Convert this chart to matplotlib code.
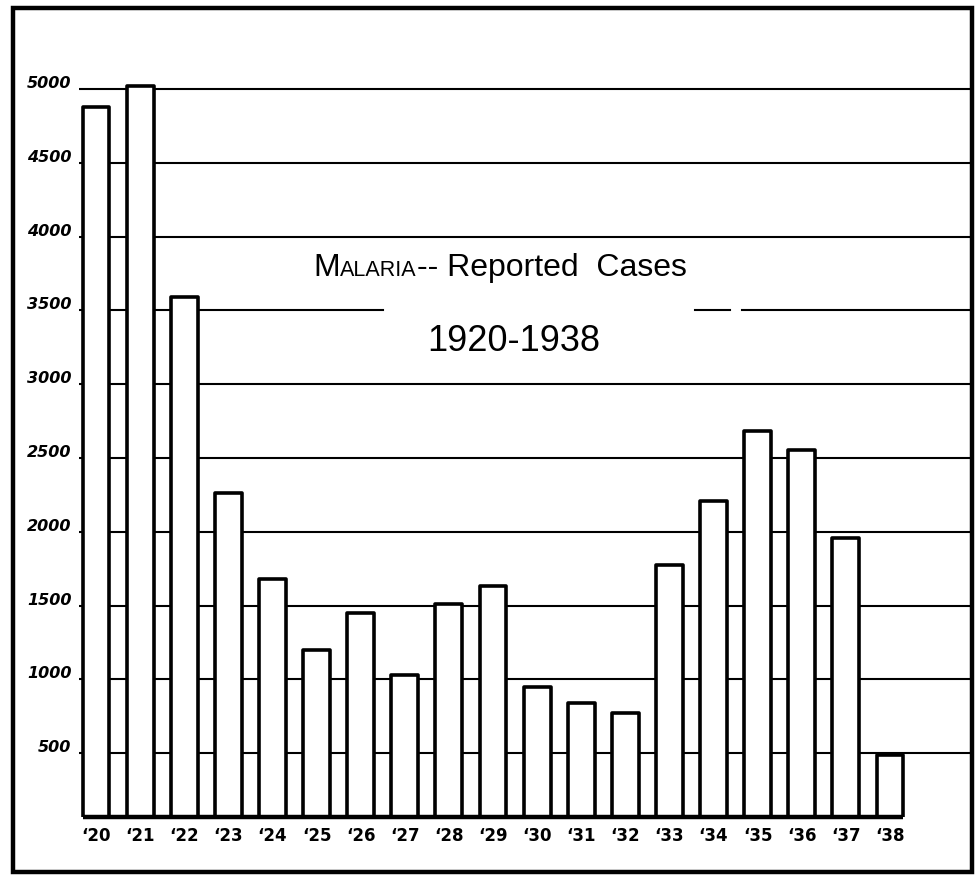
import matplotlib
matplotlib.use("Agg")
import matplotlib.pyplot as plt
import matplotlib.patches as patches
import matplotlib.transforms as mtransforms
from matplotlib.offsetbox import TextArea, HPacker, AnnotationBbox
import numpy as np

years = ["'20", "'21", "'22", "'23", "'24", "'25", "'26", "'27", "'28", "'29",
         "'30", "'31", "'32", "'33", "'34", "'35", "'36", "'37", "'38"]
cases = [4880, 5020, 3590, 2260, 1680, 1200, 1450, 1030, 1510, 1630,
         950, 840, 770, 1775, 2210, 2680, 2555, 1955, 490]
grid_vals = [500, 1000, 1500, 2000, 2500, 3000, 3500, 4000, 4500, 5000]
grid_labels = ["500", "1000", "1500", "2000", "2500", "3000", "3500", "4000", "4500", "5000"]

fig = plt.figure(figsize=(9.77, 8.75), dpi=100)
fig.patch.set_facecolor("white")

# outer hand-drawn frame
frame = patches.Rectangle((13 / 977, 3 / 875), 959 / 977, 864 / 875,
                          transform=fig.transFigure, fill=False,
                          edgecolor="black", linewidth=3.2)
fig.patches.append(frame)

ax = fig.add_axes([79 / 977, 58 / 875, 893 / 977, 797 / 875])
x = np.arange(len(years))
ax.set_xlim(-0.385, 19.86)
ax.set_ylim(68, 5467)
for s in ax.spines.values():
    s.set_visible(False)

# horizontal rules (3500 one is broken around the title)
for v in grid_vals:
    if v == 3500:
        ax.axhline(v, xmin=0, xmax=0.34, color="black", lw=1.5, zorder=1)
        ax.axhline(v, xmin=0.69, xmax=0.729, color="black", lw=1.5, zorder=1)
        ax.axhline(v, xmin=0.742, xmax=1, color="black", lw=1.5, zorder=1)
    else:
        ax.axhline(v, color="black", lw=1.5, zorder=1)

ax.bar(x, cases, width=0.61, bottom=0, facecolor="white", edgecolor="black",
       linewidth=2.6, zorder=2, joinstyle="round")
ax.hlines(ax.get_ylim()[0], x[0] - 0.305, x[-1] + 0.305, color="black",
          lw=3.2, zorder=3, clip_on=False)

# y labels sit just above their rule, left of the plot
off = mtransforms.offset_copy(ax.transData, fig=fig, x=0, y=1, units="dots")
for v, lab in zip(grid_vals, grid_labels):
    ax.text(-0.555, v, lab, ha="right", va="baseline", transform=off,
            fontsize=11.5, fontweight="bold", fontstyle="italic",
            clip_on=False)

ax.set_yticks([])
ax.set_xticks(x, ["\u2018" + y[1:] for y in years])
ax.tick_params(axis="x", length=0, pad=7)
for t in ax.get_xticklabels():
    t.set_fontsize(12)
    t.set_fontweight("bold")

# title, hand-lettered look
fam = "Liberation Sans"
parts = [TextArea("M", textprops=dict(fontsize=23, family=fam)),
         TextArea("ALARIA", textprops=dict(fontsize=15.5, family=fam)),
         TextArea("-- Reported  Cases", textprops=dict(fontsize=23, family=fam))]
line1 = HPacker(children=parts, align="baseline", pad=0, sep=0)
ab = AnnotationBbox(line1, (500 / 977, 1 - 268 / 875), xycoords="figure fraction",
                    frameon=False, box_alignment=(0.5, 0.5))
fig.add_artist(ab)

fig.text(514 / 977, 1 - 342 / 875, "1920-1938", ha="center", va="center",
         fontsize=26, family=fam)

fig.savefig("out.png", dpi=100, facecolor="white")
